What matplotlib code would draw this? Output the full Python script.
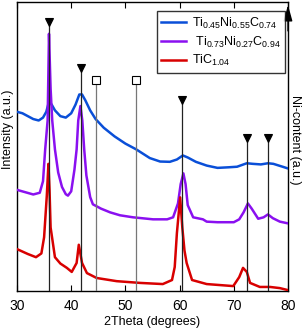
"""Diffractogrammes DRX de trois carbures Ti-Ni-C avec positions des pics."""

import matplotlib

matplotlib.use("Agg")
import matplotlib.pyplot as plt

plt.rcParams["font.family"] = ["Liberation Sans", "DejaVu Sans"]
plt.rcParams["mathtext.fontset"] = "custom"
plt.rcParams["mathtext.rm"] = "Liberation Sans"
plt.rcParams["mathtext.it"] = "Liberation Sans:italic"

# --- données (2theta, intensité normalisée) ---
BLUE_X = [30.0, 31.0, 32.0, 33.0, 34.0, 34.8, 35.4, 35.9, 36.4, 37.0, 38.0,
          39.0, 40.0, 40.8, 41.5, 42.0, 42.6, 43.5, 44.5, 46.0, 48.0, 50.0,
          52.0, 54.5, 56.4, 58.2, 59.5, 60.6, 61.5, 63.0, 65.0, 67.0, 69.0,
          70.6, 71.5, 72.4, 73.5, 75.0, 76.3, 77.3, 79.0, 80.0]
BLUE_Y = [0.620, 0.615, 0.605, 0.595, 0.590, 0.600, 0.620, 0.655, 0.645,
          0.625, 0.605, 0.600, 0.615, 0.645, 0.680, 0.680, 0.660, 0.625,
          0.595, 0.565, 0.535, 0.510, 0.490, 0.460, 0.448, 0.447, 0.455,
          0.469, 0.462, 0.447, 0.434, 0.426, 0.428, 0.430, 0.436, 0.442,
          0.440, 0.438, 0.442, 0.440, 0.430, 0.424]

PURPLE_X = [30.0, 31.5, 33.0, 34.2, 34.8, 35.2, 35.65, 35.9, 36.2, 36.5,
            37.0, 37.6, 38.3, 39.0, 39.4, 40.0, 40.6, 41.0, 41.3, 41.7,
            42.05, 42.4, 42.8, 43.5, 44.0, 45.5, 47.2, 49.0, 51.4, 55.1,
            57.7, 58.8, 59.7, 60.2, 60.7, 61.1, 61.5, 62.5, 64.3, 65.0,
            67.0, 70.0, 71.0, 71.8, 72.6, 73.3, 74.5, 75.5, 76.3, 77.2,
            78.5, 80.0]
PURPLE_Y = [0.350, 0.342, 0.334, 0.340, 0.380, 0.490, 0.590, 0.890, 0.700,
            0.590, 0.490, 0.410, 0.360, 0.335, 0.330, 0.345, 0.420, 0.490,
            0.590, 0.640, 0.590, 0.490, 0.400, 0.325, 0.300, 0.285, 0.272,
            0.262, 0.255, 0.248, 0.248, 0.255, 0.303, 0.370, 0.407, 0.370,
            0.297, 0.255, 0.248, 0.240, 0.238, 0.238, 0.248, 0.272, 0.303,
            0.285, 0.250, 0.255, 0.265, 0.252, 0.240, 0.234]

RED_X = [30.0, 32.0, 33.5, 34.5, 35.0, 35.5, 35.8, 36.0, 36.2, 37.0, 38.0,
         39.2, 40.1, 41.0, 41.4, 42.0, 42.9, 44.7, 48.4, 52.7, 56.9, 58.6,
         59.1, 59.5, 60.1, 60.5, 60.9, 61.3, 62.3, 65.0, 69.9, 71.0, 71.7,
         72.4, 73.0, 74.8, 76.7, 78.5, 80.0]
RED_Y = [0.145, 0.128, 0.117, 0.130, 0.186, 0.330, 0.440, 0.350, 0.220,
         0.117, 0.095, 0.080, 0.066, 0.097, 0.160, 0.097, 0.062, 0.045,
         0.034, 0.028, 0.024, 0.038, 0.083, 0.200, 0.324, 0.220, 0.140,
         0.097, 0.038, 0.024, 0.017, 0.048, 0.080, 0.066, 0.028, 0.014,
         0.014, 0.010, 0.003]

SERIES_LABELS = [
    r"Ti$_{0.45}$Ni$_{0.55}$C$_{0.74}$",
    r" Ti$_{0.73}$Ni$_{0.27}$C$_{0.94}$",
    r"TiC$_{1.04}$",
]
SERIES_COLORS = ["#0a4fd8", "#8a10f0", "#d80000"]

# pics indexés : triangles (carbure) et carrés (Ni)
TRIANGLE_POS = [35.9, 41.75, 60.5, 72.4, 76.4]
TRIANGLE_TOP = [0.93, 0.77, 0.66, 0.53, 0.53]
SQUARE_POS = [44.6, 51.9]
SQUARE_TOP = [0.73, 0.73]

XTICKS = [30, 40, 50, 60, 70, 80]


def draw_reference_lines(ax, positions, tops, marker, color, face):
    """Trace les barres verticales des pics avec leur symbole."""
    for pos, top in zip(positions, tops):
        ax.plot([pos, pos], [0, top], color=color, lw=0.9, zorder=4)
        ax.plot(pos, top, marker=marker, ms=6 if marker == "v" else 5.5,
                mfc=face, mec="black", mew=0.8, zorder=5, clip_on=False)


def main() -> None:
    fig = plt.figure(figsize=(3.03, 3.28), dpi=100)
    ax = fig.add_axes([17 / 303, 37 / 328, 271 / 303, 289 / 328])

    curves = [(BLUE_X, BLUE_Y), (PURPLE_X, PURPLE_Y), (RED_X, RED_Y)]
    for (xs, ys), label, color in zip(curves, SERIES_LABELS, SERIES_COLORS):
        ax.plot(xs, ys, color=color, lw=1.8, label=label, zorder=3)

    draw_reference_lines(ax, TRIANGLE_POS, TRIANGLE_TOP, "v", "#222222", "black")
    draw_reference_lines(ax, SQUARE_POS, SQUARE_TOP, "s", "#777777", "white")

    ax.set_xlim(30, 80)
    ax.set_ylim(0, 1)
    ax.set_xticks(XTICKS)
    ax.set_yticks([])
    ax.tick_params(axis="x", direction="in", top=True, length=4,
                   labelsize=10, width=0.8, pad=6)
    for spine in ax.spines.values():
        spine.set_linewidth(1.0)

    ax.set_xlabel("2Theta (degrees)", fontsize=9, labelpad=2)
    ax.set_ylabel("Intensity (a.u.)", fontsize=9)
    ax.yaxis.set_label_coords(-0.012, 0.56)
    ax.text(1.004, 0.525, "Ni-content (a.u.)", transform=ax.transAxes,
            rotation=270, ha="left", va="center", fontsize=9)

    # flèche « teneur en Ni » sur l'axe de droite
    ax.annotate("", xy=(1.0, 0.99), xytext=(1.0, 0.90),
                xycoords="axes fraction",
                arrowprops=dict(arrowstyle="-|>,head_length=0.8,head_width=0.22",
                                color="black", lw=1.0, mutation_scale=12,
                                shrinkA=0, shrinkB=0))

    leg = ax.legend(loc="upper right", bbox_to_anchor=(0.99, 0.968),
                    fontsize=9, frameon=True, fancybox=False,
                    edgecolor="black", handlelength=2.0, handletextpad=0.5,
                    borderpad=0.35, labelspacing=0.3, borderaxespad=0.0)
    leg.get_frame().set_linewidth(1.0)
    leg.set_zorder(6)

    fig.savefig("out.png", dpi=100)
    plt.close(fig)


if __name__ == "__main__":
    main()
